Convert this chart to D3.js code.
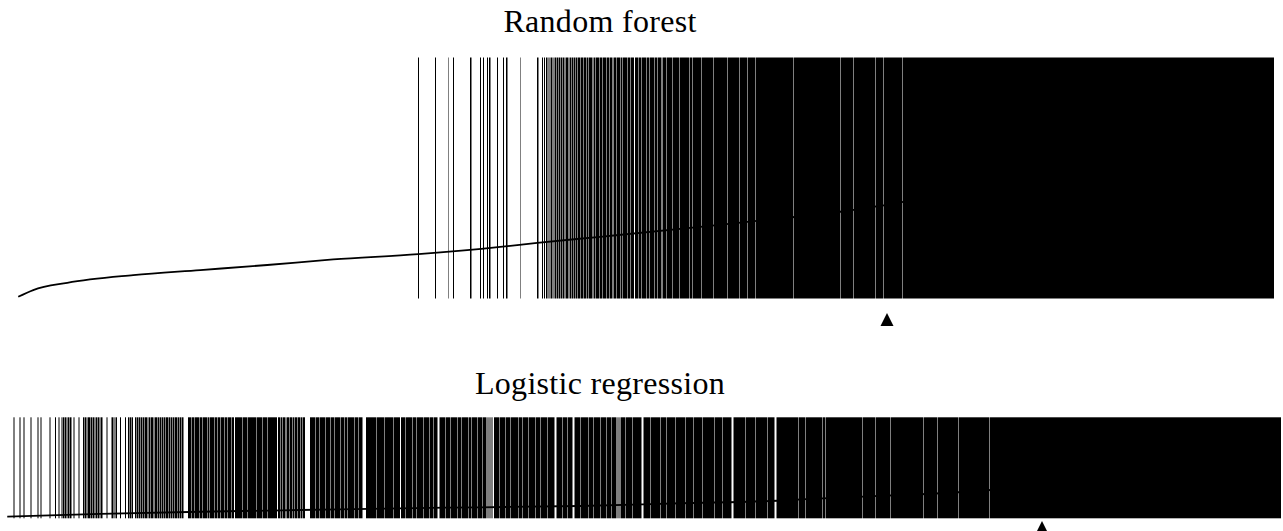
<!DOCTYPE html>
<html>
<head>
<meta charset="utf-8">
<script src="https://cdn.jsdelivr.net/npm/d3@7"></script>
<style>
  html, body { margin: 0; padding: 0; background: #fff; }
  svg { display: block; }
  .title { font-family: "Liberation Serif", "DejaVu Serif", serif; font-size: 32px; letter-spacing: 0.3px; fill: #000; }
</style>
</head>
<body>
<svg id="chart" width="1283" height="531"></svg>
<script>
// ---------------- DATA ----------------
// Random forest: observations sorted by predicted probability (rank 0 .. rfN-1)
const rfTitle = "Random forest";
const rfN = 2512;
// events (y = 1) as runs: [first rank, number of consecutive events]
const rfEventRuns = [
  [800,2],[834,2],[860,1],[870,2],[904,3],[924,2],[930,2],[938,2],[942,3],[958,2],
  [970,2],[976,3],[1004,1],[1038,3],[1048,2],[1052,2],[1056,3],[1061,2],[1065,4],
  [1071,2],[1074,3],[1078,2],[1081,4],[1086,2],[1089,3],[1093,2],[1096,4],[1101,2],
  [1104,3],[1108,2],[1111,4],[1116,3],
  [1120,5],[1126,4],[1131,6],[1138,3],[1142,7],[1151,4],[1156,6],[1163,5],[1169,8],
  [1178,4],[1183,6],[1191,5],[1197,7],[1205,4],[1210,9],[1220,5],[1226,6],[1234,7],
  [1242,5],[1248,8],[1257,6],[1264,9],[1274,5],[1280,7],[1289,8],[1298,10],
  [1309,14],[1324,18],[1343,6],[1350,17],[1368,22],[1391,28],[1420,23],[1444,15],[1460,14],
  [1475,75],[1551,93],[1645,25],[1671,43],[1715,15],[1731,38],[1770,742]
];
// predicted probability curve: [rank, probability]
const rfCurve = [
  [0,0.007],[30,0.035],[98,0.065],[230,0.097],[364,0.118],[498,0.139],[630,0.162],
  [800,0.184],[964,0.214],[1038,0.231],[1164,0.256],[1364,0.297],[1458,0.318],
  [1644,0.360],[1770,0.401],[1964,0.50],[2164,0.64],[2364,0.82],[2511,0.98]
];
// expected number of events (sum of predicted probabilities)
const rfExpected = 774;

// Logistic regression
const lrTitle = "Logistic regression";
const lrN = 2548;
const lrEventRuns = [
  [13,2],[25,2],[33,2],[47,2],[61,2],[67,2],[85,2],[96,2],[103,2],
  [109,2],[112,2],[115,3],[119,2],[122,2],[125,3],[129,1],[133,2],[143,2],
  [152,2],[155,3],[159,2],[162,5],[168,2],[171,3],[175,2],[178,3],[182,2],[185,2],[188,3],
  [199,2],[209,3],[213,2],[217,3],[226,2],[236,2],[242,3],[246,2],[249,3],
  [256,3],[260,2],[263,4],[268,2],[271,3],[275,5],[281,2],[284,3],[288,4],[293,2],
  [296,5],[302,3],[306,2],[309,4],[314,3],[318,5],[324,2],[327,4],[332,3],[336,5],
  [342,2],[345,4],[350,3],
  [362,7],[370,5],[376,9],[386,5],[392,8],[401,3],[405,9],[415,6],[422,4],[427,8],
  [436,5],[442,7],[450,4],
  [456,14],[471,10],[482,16],[499,12],[512,9],[522,18],
  [542,4],[547,3],[551,5],[557,2],[560,4],[565,6],[572,3],[576,4],[581,5],[587,3],[591,5],
  [606,10],[617,7],[625,12],[638,9],[648,6],[655,11],[667,8],[676,5],[682,12],[695,7],[703,8],
  [718,20],[739,15],[755,18],[774,12],
  [788,9],[798,12],[811,7],[819,14],[834,10],[845,8],[854,7],[865,11],[877,9],[887,13],
  [901,8],[910,12],[923,6],[930,10],[941,9],[951,8],[961,2],[964,1],[967,2],[971,1],
  [974,10],[985,12],[998,9],[1008,14],[1023,8],[1032,11],[1044,13],[1058,9],[1068,12],
  [1081,14],[1099,11],[1111,9],[1121,10],[1135,12],[1148,15],[1164,9],[1174,13],
  [1188,11],[1200,9],[1210,9],[1221,1],[1223,2],[1227,10],[1238,13],[1252,17],
  [1273,14],[1288,18],[1307,12],[1320,16],[1337,20],[1358,14],[1373,18],[1392,22],
  [1415,16],[1432,17],[1453,24],[1478,19],[1498,22],[1521,14],
  [1539,43],[1583,13],[1597,33],[1631,5],[1637,73],[1711,25],[1737,29],[1767,65],
  [1833,27],[1861,41],[1903,61],[1965,583]
];
const lrCurve = [
  [0,0.016],[186,0.043],[386,0.065],[586,0.082],[786,0.099],[946,0.109],[1146,0.122],
  [1346,0.149],[1540,0.174],[1632,0.198],[1966,0.28],[2186,0.40],[2386,0.60],[2547,0.92]
];
const lrExpected = 478;

// ---------------- LAYOUT ----------------
const panels = [
  { title: rfTitle, N: rfN, runs: rfEventRuns, curve: rfCurve, expected: rfExpected,
    x0: 18, x1: 1274, y0: 57.5, y1: 298.5, titleY: 32, triTop: 313 },
  { title: lrTitle, N: lrN, runs: lrEventRuns, curve: lrCurve, expected: lrExpected,
    x0: 7, x1: 1281, y0: 417.3, y1: 518.3, titleY: 394, triTop: 521 }
];

const svg = d3.select("#chart");
svg.append("rect").attr("width", 1283).attr("height", 531).attr("fill", "#fff");

panels.forEach(p => {
  const g = svg.append("g");
  const x = d3.scaleLinear().domain([0, p.N]).range([p.x0, p.x1]);
  const y = d3.scaleLinear().domain([0, 1]).range([p.y1, p.y0]);

  // event bars
  g.append("g").selectAll("rect").data(p.runs).join("rect")
    .attr("x", d => x(d[0]))
    .attr("width", d => x(d[0] + d[1]) - x(d[0]))
    .attr("y", y(1))
    .attr("height", y(0) - y(1))
    .attr("fill", "#000");

  // predicted probability line
  const line = d3.line()
    .x(d => x(d[0] + 0.5))
    .y(d => y(d[1]))
    .curve(d3.curveMonotoneX);
  g.append("path").datum(p.curve)
    .attr("d", line)
    .attr("fill", "none")
    .attr("stroke", "#000")
    .attr("stroke-width", 1.8);

  // expected-events marker
  const cx = x(p.N - p.expected);
  const h = 13, w = 6.5;
  g.append("path")
    .attr("d", `M${cx},${p.triTop}L${cx + w},${p.triTop + h}L${cx - w},${p.triTop + h}Z`)
    .attr("fill", "#000");

  // title
  svg.append("text").attr("class", "title")
    .attr("x", 600).attr("y", p.titleY)
    .attr("text-anchor", "middle")
    .text(p.title);
});
</script>
</body>
</html>
